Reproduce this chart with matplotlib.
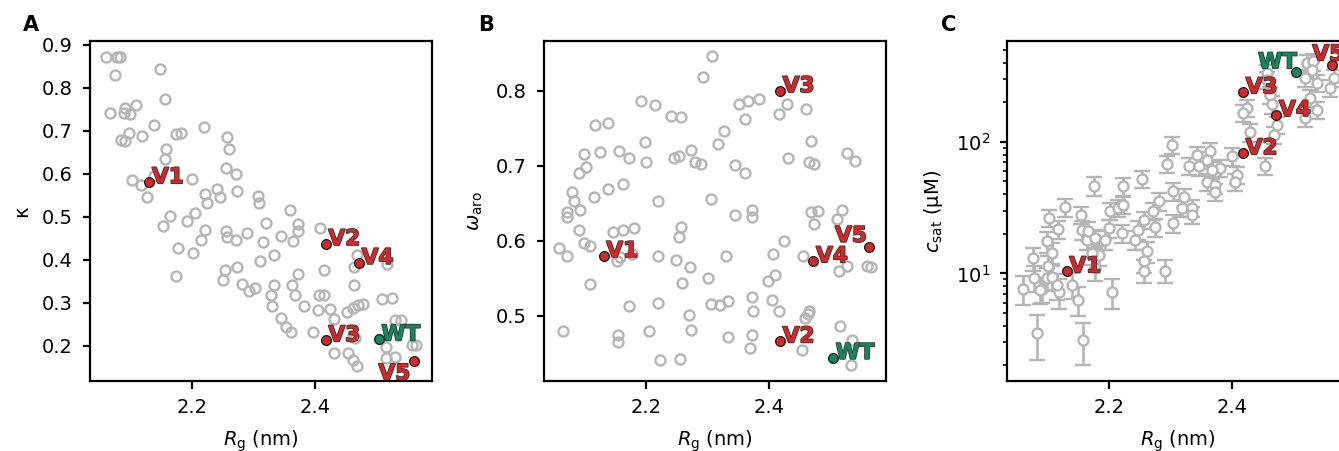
import matplotlib
matplotlib.use("Agg")
import matplotlib.pyplot as plt
import matplotlib.patheffects as pe
import numpy as np

# --------------------------
# DATA
# --------------------------

# panel A: kappa vs Rg
rg_a = [2.061, 2.078, 2.083, 2.076, 2.149, 2.156, 2.068, 2.092, 2.090, 2.100,
        2.110, 2.139, 2.099, 2.086, 2.092, 2.119, 2.175, 2.183, 2.220, 2.158,
        2.156, 2.257, 2.260, 2.103, 2.118, 2.128, 2.138, 2.200, 2.255, 2.272,
        2.222, 2.225, 2.241, 2.246, 2.273, 2.307, 2.309, 2.165, 2.153, 2.192,
        2.205, 2.222, 2.215, 2.178, 2.202, 2.255, 2.257, 2.271, 2.290, 2.174,
        2.251, 2.254, 2.274, 2.282, 2.293, 2.302, 2.310, 2.321, 2.360, 2.372,
        2.372, 2.364, 2.408, 2.344, 2.315, 2.333, 2.468, 2.516, 2.415, 2.463,
        2.463, 2.333, 2.328, 2.330, 2.372, 2.363, 2.367, 2.382, 2.407, 2.415,
        2.404, 2.424, 2.430, 2.451, 2.461, 2.469, 2.478, 2.344, 2.352, 2.361,
        2.397, 2.461, 2.464, 2.430, 2.454, 2.461, 2.468, 2.508, 2.524, 2.529,
        2.540, 2.515, 2.515, 2.530, 2.557, 2.563]
kappa_a = [0.873, 0.873, 0.873, 0.830, 0.843, 0.775, 0.741, 0.753, 0.741, 0.739,
           0.761, 0.714, 0.696, 0.679, 0.677, 0.688, 0.693, 0.696, 0.710, 0.659,
           0.634, 0.686, 0.658, 0.586, 0.574, 0.547, 0.595, 0.588, 0.613, 0.600,
           0.553, 0.533, 0.565, 0.546, 0.559, 0.549, 0.532, 0.502, 0.479, 0.490,
           0.508, 0.470, 0.445, 0.427, 0.416, 0.468, 0.452, 0.445, 0.463, 0.362,
           0.353, 0.376, 0.383, 0.343, 0.327, 0.335, 0.397, 0.486, 0.516, 0.483,
           0.467, 0.444, 0.474, 0.455, 0.442, 0.411, 0.411, 0.391, 0.377, 0.384,
           0.341, 0.341, 0.318, 0.292, 0.366, 0.341, 0.319, 0.292, 0.318, 0.318,
           0.283, 0.285, 0.263, 0.279, 0.289, 0.295, 0.298, 0.265, 0.244, 0.233,
           0.232, 0.226, 0.217, 0.183, 0.182, 0.167, 0.152, 0.309, 0.310, 0.259,
           0.259, 0.196, 0.172, 0.174, 0.201, 0.202]

# panel B: omega_aro vs Rg
rg_b = [2.307, 2.293, 2.191, 2.214, 2.241, 2.256, 2.118, 2.138, 2.199, 2.200,
        2.100, 2.126, 2.156, 2.173, 2.246, 2.253, 2.273, 2.280, 2.289, 2.092,
        2.102, 2.080, 2.083, 2.072, 2.071, 2.093, 2.115, 2.138, 2.162, 2.220,
        2.092, 2.100, 2.109, 2.059, 2.072, 2.147, 2.163, 2.181, 2.153, 2.158,
        2.177, 2.109, 2.220, 2.248, 2.271, 2.258, 2.257, 2.253, 2.301, 2.305,
        2.173, 2.220, 2.270, 2.273, 2.066, 2.154, 2.155, 2.204, 2.223, 2.255,
        2.351, 2.365, 2.383, 2.361, 2.415, 2.429, 2.460, 2.327, 2.316, 2.467,
        2.344, 2.360, 2.430, 2.464, 2.472, 2.525, 2.539, 2.306, 2.344, 2.372,
        2.372, 2.467, 2.479, 2.472, 2.518, 2.510, 2.424, 2.406, 2.329, 2.455,
        2.513, 2.526, 2.558, 2.564, 2.398, 2.409, 2.320, 2.333, 2.371, 2.373,
        2.404, 2.415, 2.464, 2.462, 2.458, 2.333, 2.371, 2.369, 2.452, 2.514,
        2.534, 2.532]
omega_b = [0.846, 0.819, 0.786, 0.781, 0.767, 0.765, 0.754, 0.757, 0.732, 0.705,
           0.716, 0.719, 0.720, 0.711, 0.711, 0.713, 0.721, 0.705, 0.702, 0.691,
           0.698, 0.665, 0.653, 0.639, 0.632, 0.641, 0.658, 0.669, 0.676, 0.653,
           0.615, 0.597, 0.593, 0.590, 0.580, 0.612, 0.614, 0.617, 0.573, 0.578,
           0.582, 0.542, 0.580, 0.574, 0.565, 0.544, 0.618, 0.605, 0.551, 0.516,
           0.513, 0.517, 0.501, 0.481, 0.480, 0.475, 0.465, 0.480, 0.441, 0.442,
           0.782, 0.787, 0.789, 0.763, 0.769, 0.782, 0.776, 0.747, 0.729, 0.733,
           0.701, 0.690, 0.711, 0.705, 0.703, 0.717, 0.706, 0.656, 0.635, 0.641,
           0.632, 0.638, 0.640, 0.623, 0.641, 0.629, 0.600, 0.582, 0.580, 0.580,
           0.560, 0.566, 0.566, 0.565, 0.547, 0.554, 0.515, 0.520, 0.525, 0.506,
           0.521, 0.506, 0.506, 0.502, 0.497, 0.472, 0.475, 0.457, 0.455, 0.487,
           0.468, 0.434]

# panel C: c_sat (uM) vs Rg, with relative error
rg_c = [2.083, 2.157, 2.061, 2.079, 2.076, 2.092, 2.088, 2.099, 2.099, 2.101,
        2.107, 2.103, 2.117, 2.128, 2.119, 2.140, 2.149, 2.155, 2.156, 2.164,
        2.165, 2.175, 2.177, 2.183, 2.177, 2.194, 2.200, 2.202, 2.205, 2.215,
        2.223, 2.222, 2.221, 2.242, 2.247, 2.253, 2.257, 2.261, 2.257, 2.257,
        2.271, 2.275, 2.281, 2.291, 2.294, 2.302, 2.304, 2.304, 2.322, 2.318,
        2.334, 2.334, 2.329, 2.342, 2.345, 2.363, 2.358, 2.380, 2.367, 2.399,
        2.358, 2.372, 2.372, 2.407, 2.404, 2.452, 2.456, 2.424, 2.417, 2.428,
        2.461, 2.464, 2.472, 2.468, 2.521, 2.531, 2.518, 2.537, 2.537, 2.526,
        2.518, 2.558, 2.564, 2.107, 2.115, 2.172, 2.456, 2.529]
csat_c = [3.5, 3.1, 7.6, 9.3, 13.1, 7.6, 7.5, 9.2, 17.5, 11.3,
          14.3, 26.3, 21.7, 31.8, 7.2, 8.2, 6.3, 27.9, 21.4, 18.0,
          21.1, 46.4, 18.5, 13.8, 11.0, 18.0, 22.1, 29.9, 7.2, 31.3,
          33.2, 45.8, 20.2, 18.0, 21.4, 52.4, 25.5, 14.7, 12.5, 10.5,
          29.9, 22.4, 35.2, 10.5, 67.8, 95.2, 42.0, 24.1, 37.8, 31.3,
          31.3, 27.9, 65.7, 79.6, 65.0, 84.5, 72.9, 63.1, 61.3, 77.4,
          49.4, 47.1, 41.5, 56.1, 49.4, 65.7, 333, 182, 165, 118,
          228, 193, 135, 113, 396, 408, 308, 279, 175, 215,
          153, 256, 305, 9.4, 8.1, 14.2, 294, 351]
csat_rel_err = [0.37, 0.35, 0.25, 0.22, 0.20, 0.22, 0.22, 0.20, 0.18, 0.20,
                0.18, 0.15, 0.16, 0.15, 0.25, 0.22, 0.25, 0.15, 0.16, 0.16,
                0.16, 0.16, 0.16, 0.18, 0.20, 0.16, 0.16, 0.15, 0.25, 0.15,
                0.15, 0.15, 0.16, 0.16, 0.16, 0.15, 0.15, 0.18, 0.20, 0.20,
                0.15, 0.16, 0.15, 0.20, 0.15, 0.15, 0.15, 0.16, 0.15, 0.15,
                0.15, 0.15, 0.15, 0.15, 0.15, 0.15, 0.15, 0.15, 0.15, 0.15,
                0.15, 0.15, 0.15, 0.15, 0.15, 0.15, 0.15, 0.15, 0.15, 0.15,
                0.15, 0.15, 0.15, 0.15, 0.15, 0.15, 0.15, 0.15, 0.15, 0.15,
                0.15, 0.15, 0.15, 0.20, 0.22, 0.18, 0.15, 0.15]

# highlighted sequences
hl_names = ["V1", "V2", "V3", "V4", "V5", "WT"]
hl_rg = [2.131, 2.417, 2.417, 2.471, 2.561, 2.503]
hl_kappa = [0.581, 0.437, 0.213, 0.393, 0.165, 0.215]
hl_omega = [0.580, 0.466, 0.800, 0.573, 0.592, 0.444]
hl_csat = [10.4, 82, 239, 160, 381, 337]

# --------------------------
# STYLE
# --------------------------
GREY = "#b5b5b5"
RED = "#d62728"
GREEN = "#13885d"

plt.rcParams.update({
    "font.size": 7,
    "axes.linewidth": 0.8,
    "xtick.major.size": 2.7,
    "ytick.major.size": 2.7,
    "xtick.major.width": 0.8,
    "ytick.major.width": 0.8,
    "ytick.minor.size": 1.5,
    "ytick.minor.width": 0.6,
})

fig = plt.figure(figsize=(6.695, 2.255), dpi=200)
w, h = 0.2552, 0.7528
ax_a = fig.add_axes([0.0672, 0.1552, w, h])
ax_b = fig.add_axes([0.4065, 0.1552, w, h])
ax_c = fig.add_axes([0.7523, 0.1552, w, h])

# per panel label tweaks: name -> (dx, dy, ha, va) in points
default_off = (1.0, -0.4, "left", "baseline")
offsets = {
    "A": {"V5": (-1.5, -1.0, "right", "top")},
    "B": {"V5": (-0.7, 1.8, "right", "baseline")},
    "C": {"WT": (0.3, 1.5, "right", "baseline"), "V5": (-7.0, 1.8, "left", "baseline")},
}

MS = 3.6
MEW = 0.85


def highlight(ax, yvals, panel):
    for name, x, y in zip(hl_names, hl_rg, yvals):
        col = GREEN if name == "WT" else RED
        ax.plot(x, y, "o", color=col, ms=3.5, mec="#222222", mew=0.5, zorder=4)
        dx, dy, ha, va = offsets[panel].get(name, default_off)
        ax.annotate(name, (x, y), xytext=(dx, dy), textcoords="offset points",
                    ha=ha, va=va, color=col, fontsize=7.8, fontweight="bold",
                    zorder=5,
                    path_effects=[pe.withStroke(linewidth=0.6, foreground="#333333")])


# A
ax_a.plot(rg_a, kappa_a, "o", mfc="none", mec=GREY, ms=MS, mew=MEW)
highlight(ax_a, hl_kappa, "A")
ax_a.set_ylim(0.118, 0.908)
ax_a.set_yticks([0.2, 0.3, 0.4, 0.5, 0.6, 0.7, 0.8, 0.9])
ax_a.set_ylabel("κ")

# B
ax_b.plot(rg_b, omega_b, "o", mfc="none", mec=GREY, ms=MS, mew=MEW)
highlight(ax_b, hl_omega, "B")
ax_b.set_ylim(0.413, 0.866)
ax_b.set_yticks([0.5, 0.6, 0.7, 0.8])
ax_b.set_ylabel(r"$\omega_\mathrm{aro}$")

# C
csat_err = np.array(csat_c) * np.array(csat_rel_err)
ax_c.errorbar(rg_c, csat_c, yerr=csat_err, fmt="o", mfc="white", mec=GREY,
              ms=MS, mew=MEW, ecolor=GREY, elinewidth=0.95, capsize=2.8,
              capthick=0.95)
highlight(ax_c, hl_csat, "C")
ax_c.set_yscale("log")
ax_c.set_ylim(1.52, 579)
ax_c.set_ylabel(r"$c_\mathrm{sat}$ (μM)")

for ax in (ax_a, ax_b, ax_c):
    ax.set_xlim(2.035, 2.589)
    ax.set_xticks([2.2, 2.4])
    ax.set_xlabel(r"$R_\mathrm{g}$ (nm)")

for letter, xpos in zip(["A", "B", "C"], [0.0172, 0.357, 0.7025]):
    fig.text(xpos, 0.932, letter, fontsize=7.5, fontweight="bold", va="baseline")

fig.savefig("out.png", dpi=200)
